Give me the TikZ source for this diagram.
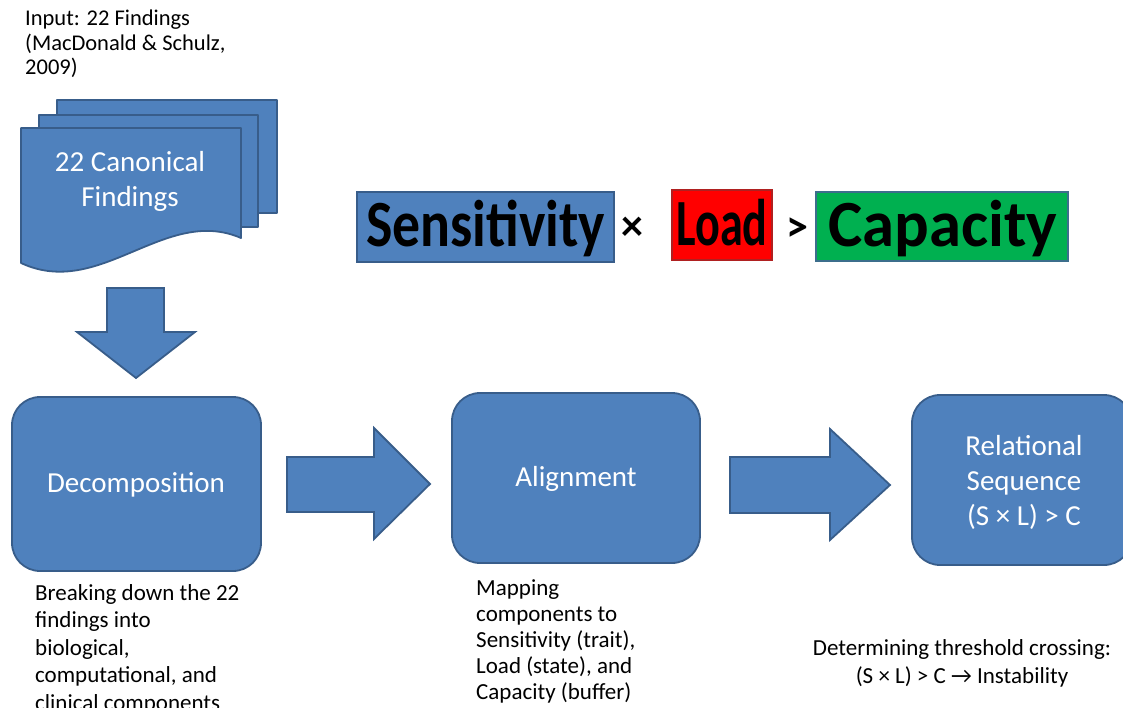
\documentclass[tikz,border=0pt]{standalone}
\usepackage{fontspec}
\setmainfont{Carlito}
\definecolor{boxblue}{HTML}{4F81BD}
\definecolor{edgeblue}{HTML}{385D8A}
\definecolor{loadred}{HTML}{FF0000}
\definecolor{edgered}{HTML}{B02020}
\definecolor{capgreen}{HTML}{00B050}
\definecolor{edgegreen}{HTML}{3C6E8C}
\tikzset{
  sheet/.style={fill=boxblue, draw=edgeblue, line width=1.8pt, line join=round},
  stage/.style={sheet, rounded corners=28pt, inner sep=0pt},
  stagetext/.style={text=white, inner sep=0pt, align=center,
    font=\fontsize{29}{35}\selectfont},
  blockarrow/.style={sheet, line join=miter},
  note/.style={inner sep=0pt, align=left, font=\fontsize{23}{26}\selectfont},
  termbox/.style={line width=1.5pt, inner sep=0pt},
  termtext/.style={font=\fontsize{66}{70}\selectfont\bfseries, inner sep=0pt, anchor=base},
  optext/.style={font=\fontsize{44}{48}\selectfont\bfseries, inner sep=0pt, anchor=base}
}
\begin{document}
\begin{tikzpicture}[x=1pt,y=-1pt]
\useasboundingbox (0,0) rectangle (1123,708);
\clip (0,0) rectangle (1123,708);

% source label
\node[note, anchor=north west, font=\fontsize{22.5}{24.5}\selectfont] (inlabel) at (25,10)
  {Input: 22 Findings\\(MacDonald \& Schulz,\\2009)};

% stacked documents
\draw[sheet] (57,100) rectangle (277,213);
\draw[sheet] (39,115) rectangle (258,227);
\draw[sheet] (21,128) -- (241,128) -- (241,238)
  .. controls (165,205) and (100,300) .. (21,263) -- cycle;
\node[stagetext] (docs) at (130,181) {22 Canonical\\Findings};

% downward block arrow
\draw[blockarrow] (107,288) -- (164,288) -- (164,332) -- (195,332)
  -- (136,378) -- (77,332) -- (107,332) -- cycle;

% relation  S x L > C
\draw[termbox, fill=boxblue, draw=edgeblue] (357,192) rectangle (614,262);
\node[termtext, xscale=0.845] (sens) at (485.5,247) {Sensitivity};
\node[optext] (times) at (632,241) {×};
\draw[termbox, fill=loadred, draw=edgered] (672,190) rectangle (772,260);
\node[termtext, xscale=0.7] (load) at (722,246) {Load};
\node[optext] (gt) at (797,242) {>};
\draw[termbox, fill=capgreen, draw=edgegreen] (816,192) rectangle (1068,261);
\node[termtext, xscale=0.98] (cap) at (943,247) {Capacity};

% stages
\node[stage, minimum width=249pt, minimum height=174pt] (decomp) at (136.5,484) {};
\node[stagetext] (decomptext) at (136,485) {Decomposition};
\node[stage, minimum width=248pt, minimum height=170pt] (align) at (576,478) {};
\node[stagetext] (aligntext) at (576,479) {Alignment};
\node[stage, minimum width=220pt, minimum height=170pt] (rel) at (1022,480) {};
\node[stagetext] (reltext) at (1024,482) {Relational\\Sequence\\(S × L) > C};

% block arrows between stages
\draw[blockarrow] (287,457) -- (374,457) -- (374,428) -- (430,484)
  -- (374,539) -- (374,512) -- (287,512) -- cycle;
\draw[blockarrow] (730,457) -- (830,457) -- (830,429) -- (890,485)
  -- (830,540) -- (830,513) -- (730,513) -- cycle;

% notes under the stages
\node[note, anchor=north west, font=\fontsize{23}{27.5}\selectfont] (decompnote) at (35,584)
  {Breaking down the 22\\findings into\\biological,\\computational, and\\clinical components};
\node[note, anchor=north west] (alignnote) at (476,579)
  {Mapping\\components to\\Sensitivity (trait),\\Load (state), and\\Capacity (buffer)};
\node[note, align=center, anchor=north, font=\fontsize{23}{28}\selectfont] (relnote) at (962,639)
  {Determining threshold crossing:\\(S × L) > C → Instability};
\end{tikzpicture}
\end{document}
